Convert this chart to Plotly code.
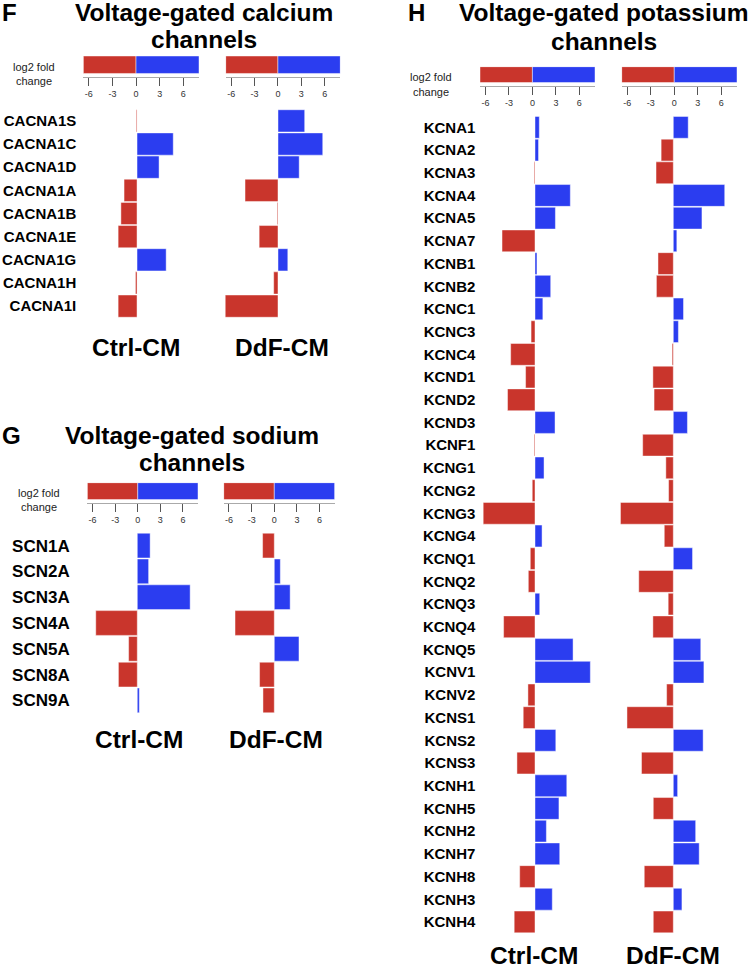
import plotly.graph_objects as go

W, H = 750, 969

# ---------------------------------------------------------------- data
f_genes = ["CACNA1S", "CACNA1C", "CACNA1D", "CACNA1A", "CACNA1B",
           "CACNA1E", "CACNA1G", "CACNA1H", "CACNA1I"]
f_ctrl = [-0.1, 4.6, 2.8, -1.65, -2.05, -2.4, 3.7, -0.2, -2.4]
f_ddf = [3.4, 5.7, 2.7, -4.2, -0.1, -2.4, 1.25, -0.55, -6.75]

g_genes = ["SCN1A", "SCN2A", "SCN3A", "SCN4A", "SCN5A", "SCN8A", "SCN9A"]
g_ctrl = [1.7, 1.5, 7.0, -5.5, -1.15, -2.5, 0.27]
g_ddf = [-1.55, 0.8, 2.1, -5.2, 3.27, -1.95, -1.5]

h_genes = ["KCNA1", "KCNA2", "KCNA3", "KCNA4", "KCNA5", "KCNA7", "KCNB1",
           "KCNB2", "KCNC1", "KCNC3", "KCNC4", "KCND1", "KCND2", "KCND3",
           "KCNF1", "KCNG1", "KCNG2", "KCNG3", "KCNG4", "KCNQ1", "KCNQ2",
           "KCNQ3", "KCNQ4", "KCNQ5", "KCNV1", "KCNV2", "KCNS1", "KCNS2",
           "KCNS3", "KCNH1", "KCNH5", "KCNH2", "KCNH7", "KCNH8", "KCNH3",
           "KCNH4"]
h_ctrl = [0.55, 0.45, -0.1, 4.5, 2.6, -4.2, 0.25, 2.0, 1.0, -0.5, -3.1,
          -1.2, -3.5, 2.55, -0.1, 1.15, -0.35, -6.6, 0.9, -0.6, -0.85, 0.6,
          -4.0, 4.85, 7.05, -0.9, -1.5, 2.65, -2.3, 4.05, 3.05, 1.45, 3.15,
          -1.95, 2.2, -2.65]
h_ddf = [1.9, -1.55, -2.2, 6.55, 3.65, 0.45, -1.95, -2.15, 1.3, 0.65, -0.15,
         -2.6, -2.45, 1.8, -3.9, -0.95, -0.6, -6.95, -1.15, 2.45, -4.4, -0.65,
         -2.6, 3.5, 3.9, -0.85, -5.9, 3.8, -4.05, 0.55, -2.55, 2.85, 3.3,
         -3.7, 1.1, -2.55]

groups = ["Ctrl-CM", "DdF-CM"]
scale_span = [-6.7, 8.0]
scale_ticks = [-6, -3, 0, 3, 6]

RED = "#C9352C"
BLUE = "#2B3DF0"
FONT = "Liberation Sans, Arial, sans-serif"

# ---------------------------------------------------------------- geometry (px)
panels = [
    dict(letter="F", letter_xy=(0, 12.4),
         title=["Voltage-gated calcium", "channels"], title_x=204, title_y=(12.4, 40),
         log2_xy=(33.5, 66.7, 81),
         genes=f_genes, vals=[f_ctrl, f_ddf], rows=(109.3, 317.7), label_size=15, standoff=7,
         bar_x=[(84.3, 200), (225.4, 340.8)],
         scale_x=[(83.3, 199), (225.7, 340.3)], scale_y=(56, 77.3),
         grp_x=(135.8, 281.7), grp_y=347.3),
    dict(letter="G", letter_xy=(0, 435),
         title=["Voltage-gated sodium", "channels"], title_x=192, title_y=(435, 462.4),
         log2_xy=(39, 492.7, 506.7),
         genes=g_genes, vals=[g_ctrl, g_ddf], rows=(532.7, 713.3), label_size=17, standoff=16,
         bar_x=[(86.7, 197.7), (223.7, 334.7)],
         scale_x=[(87.3, 198), (223.7, 334.7)], scale_y=(482.7, 503.3),
         grp_x=(138.5, 275.5), grp_y=739.3),
    dict(letter="H", letter_xy=(405.7, 12.4),
         title=["Voltage-gated potassium", "channels"], title_x=604, title_y=(12.4, 41.7),
         log2_xy=(430.7, 76.7, 91.7),
         genes=h_genes, vals=[h_ctrl, h_ddf], rows=(116, 933.3), label_size=15, standoff=6,
         bar_x=[(482.4, 597.8), (620.7, 736.1)],
         scale_x=[(480, 595), (621.7, 737)], scale_y=(66.7, 86),
         grp_x=(533.8, 673.3), grp_y=955),
]


def fx(px):
    return px / W


def fy(py):
    return 1 - py / H


fig = go.Figure()
layout = {}
annotations = []
k = 0


def next_axes():
    global k
    k += 1
    return "" if k == 1 else str(k)


for p in panels:
    n = len(p["genes"])
    for i, vals in enumerate(p["vals"]):
        # ---- colour-scale bar
        s = next_axes()
        fig.add_trace(go.Bar(
            x=[0 - scale_span[0], scale_span[1]], base=[scale_span[0], 0],
            y=[0, 0], width=[1, 1], orientation="h",
            marker=dict(color=[RED, BLUE], line=dict(color="rgba(255,255,255,0.45)", width=1)),
            xaxis="x" + s, yaxis="y" + s, hoverinfo="skip",
        ))
        layout["xaxis" + s] = dict(
            domain=[fx(p["scale_x"][i][0]), fx(p["scale_x"][i][1])],
            range=scale_span, anchor="y" + s,
            tickvals=scale_ticks, ticktext=[str(t) for t in scale_ticks],
            ticks="outside", ticklen=8, tickcolor="#555", tickwidth=1,
            showline=True, linecolor="#aaa", linewidth=1,
            showgrid=False, zeroline=False,
            tickfont=dict(family=FONT, size=9, color="#333"), fixedrange=True,
        )
        layout["yaxis" + s] = dict(
            domain=[fy(p["scale_y"][1]), fy(p["scale_y"][0])],
            range=[-0.72, 0.5], anchor="x" + s, visible=False, fixedrange=True,
        )

        # ---- fold-change bars
        s = next_axes()
        fig.add_trace(go.Bar(
            x=vals, y=p["genes"], orientation="h",
            marker=dict(color=[RED if v < 0 else BLUE for v in vals],
                        line=dict(color="rgba(255,255,255,0.45)", width=1)),
            xaxis="x" + s, yaxis="y" + s,
            hovertemplate="%{y}: %{x:.2f}<extra>" + groups[i] + "</extra>",
        ))
        layout["xaxis" + s] = dict(
            domain=[fx(p["bar_x"][i][0]), fx(p["bar_x"][i][1])],
            range=scale_span, anchor="y" + s, visible=False, fixedrange=True,
        )
        layout["yaxis" + s] = dict(
            domain=[fy(p["rows"][1]), fy(p["rows"][0])],
            type="category", categoryorder="array", categoryarray=p["genes"],
            range=[n - 0.5, -0.5], anchor="x" + s,
            showgrid=False, zeroline=False, showline=False, ticks="",
            showticklabels=(i == 0), ticklabelstandoff=p["standoff"],
            tickfont=dict(family=FONT, size=p["label_size"], color="black", weight="bold"),
            fixedrange=True,
        )

        # ---- group label under the column
        annotations.append(dict(
            text="<b>" + groups[i] + "</b>", x=fx(p["grp_x"][i]), y=fy(p["grp_y"]),
            xref="paper", yref="paper", xanchor="center", yanchor="middle",
            showarrow=False, font=dict(family=FONT, size=24.5, color="black"),
        ))

    # ---- panel letter, title, scale caption
    annotations.append(dict(
        text="<b>" + p["letter"] + "</b>", x=fx(p["letter_xy"][0]), y=fy(p["letter_xy"][1]),
        xref="paper", yref="paper", xanchor="left", yanchor="middle",
        showarrow=False, font=dict(family=FONT, size=24, color="black"),
    ))
    for line, ty in zip(p["title"], p["title_y"]):
        annotations.append(dict(
            text="<b>" + line + "</b>", x=fx(p["title_x"]), y=fy(ty),
            xref="paper", yref="paper", xanchor="center", yanchor="middle",
            showarrow=False, font=dict(family=FONT, size=24.5, color="black"),
        ))
    for line, ty in zip(["log2 fold", "change"], p["log2_xy"][1:]):
        annotations.append(dict(
            text=line, x=fx(p["log2_xy"][0]), y=fy(ty),
            xref="paper", yref="paper", xanchor="center", yanchor="middle",
            showarrow=False, font=dict(family=FONT, size=11, color="#222"),
        ))

fig.update_layout(
    width=W, height=H,
    margin=dict(l=0, r=0, t=0, b=0),
    paper_bgcolor="white", plot_bgcolor="white",
    barmode="overlay", bargap=0.04,
    showlegend=False,
    annotations=annotations,
    **layout,
)

# drop the browser's default 8px body margin so the figure sits at 0,0
fig.write_html("out.html", config={"displayModeBar": False},
               post_script="document.body.style.margin='0';")
